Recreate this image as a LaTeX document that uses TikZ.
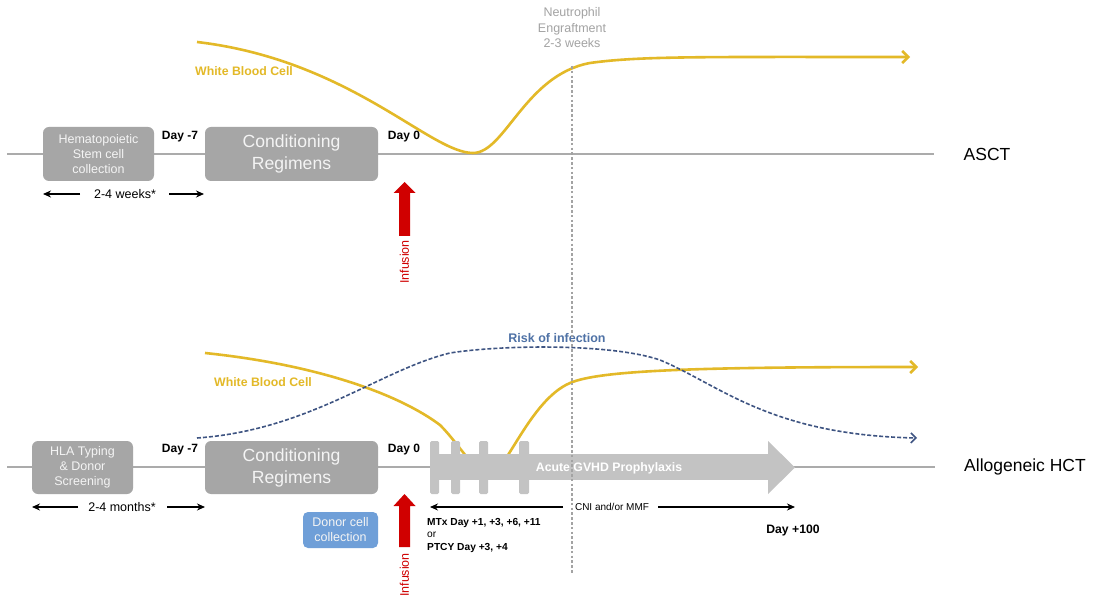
\documentclass[tikz,border=0pt]{standalone}
\usepackage{fontspec}
\setmainfont{Liberation Sans}
\usetikzlibrary{arrows.meta}
\definecolor{boxgray}{HTML}{A6A6A6}
\definecolor{linegray}{HTML}{ABABAB}
\definecolor{wbc}{HTML}{E3B928}
\definecolor{risk}{HTML}{3E5482}
\definecolor{risklbl}{HTML}{4F72A6}
\definecolor{gvhd}{HTML}{C3C3C3}
\definecolor{donor}{HTML}{6F9FD8}
\definecolor{infred}{HTML}{D00000}
\definecolor{neutro}{HTML}{A3A3A3}
\definecolor{boxtext}{HTML}{F4F4F4}
\tikzset{
  graybox/.style={fill=boxgray, rounded corners=6pt, text=boxtext, align=center, inner sep=0pt},
  smallbox/.style={graybox, font=\fontsize{12.5}{15}\selectfont},
  condbox/.style={graybox, font=\fontsize{17.6}{22}\selectfont, minimum width=173pt, minimum height=54pt},
  baseline/.style={draw=linegray, line width=2.5pt},
  daylbl/.style={font=\bfseries\fontsize{12}{14}\selectfont, inner sep=0pt},
  rowlbl/.style={font=\fontsize{17.5}{20}\selectfont, inner sep=0pt},
  spanlbl/.style={font=\fontsize{12.5}{15}\selectfont, inner sep=0pt},
  spanarrow/.style={draw=black, line width=1.4pt, -{Stealth[length=8pt,width=7pt]}},
  wbcline/.style={draw=wbc, line width=2.6pt, -{Straight Barb[length=6pt,width=12pt,line width=2.6pt]}},
  wbclbl/.style={text=wbc, font=\bfseries\fontsize{12.3}{14}\selectfont, inner sep=0pt},
  riskline/.style={draw=risk, line width=1.6pt, dash pattern=on 4pt off 2pt, -{Straight Barb[length=5pt,width=10pt,line width=1.6pt]}},
  infarrow/.style={fill=infred},
  inflbl/.style={text=infred, rotate=90, font=\fontsize{12.5}{15}\selectfont, inner sep=0pt},
  neutroline/.style={draw=neutro, line width=2.6pt, dash pattern=on 2.6pt off 2.2pt},
}
\begin{document}
\begin{tikzpicture}[x=1pt,y=-1pt]
\useasboundingbox (0,0) rectangle (1094,601);
\fill[white] (0,0) rectangle (1094,601);

% ---------------- baselines
\coordinate (topL) at (7,154);
\coordinate (topR) at (934,154);
\coordinate (botL) at (7,467);
\coordinate (botR) at (935,467);
\draw[baseline] (topL) -- (topR);
\draw[baseline] (botL) -- (botR);

% ---------------- WBC curves (behind other items)
\draw[wbcline] (197,42) .. controls (350,60) and (430,153) .. (473,153)
   .. controls (505,153) and (525,75) .. (590,63)
   .. controls (640,56) and (700,57) .. (910,57);
\draw[wbcline] (205,353) .. controls (320,365) and (400,395) .. (440,425)
   .. controls (460,445) and (475,474) .. (490,474)
   .. controls (505,474) and (530,400) .. (570,383)
   .. controls (600,370) and (700,367) .. (918,367);

% ---------------- Acute GVHD prophylaxis arrow
\fill[gvhd] (430,454) rectangle (770,480);
\fill[gvhd, rounded corners=1.5pt] (430,441) rectangle (439,494);
\fill[gvhd, rounded corners=1.5pt] (451,441) rectangle (460,494);
\fill[gvhd, rounded corners=1.5pt] (479,441) rectangle (488,494);
\fill[gvhd, rounded corners=1.5pt] (519,441) rectangle (529,494);
\fill[gvhd] (768,441) -- (795,467.5) -- (768,494) -- cycle;
\node[text=white, font=\bfseries\fontsize{12.3}{14}\selectfont, inner sep=0pt] (gvhd) at (609,468) {Acute GVHD Prophylaxis};

% ---------------- risk of infection
\draw[riskline] (197,438) .. controls (310,430) and (380,370) .. (450,353)
   .. controls (500,345) and (610,343) .. (660,360)
   .. controls (720,385) and (770,435) .. (917,438);
\node[text=risklbl, font=\bfseries\fontsize{12.5}{15}\selectfont, inner sep=0pt] (risk) at (557,338) {Risk of infection};

% ---------------- neutrophil engraftment
\coordinate (neuT) at (572,66);
\coordinate (neuB) at (572,574);
\draw[neutroline] (neuT) -- (neuB);
\node[text=neutro, align=center, font=\fontsize{12.5}{15.5}\selectfont, inner sep=0pt] (neu) at (572,28) {Neutrophil\\Engraftment\\2-3 weeks};

% ---------------- top row (ASCT)
\node[smallbox, minimum width=111pt, minimum height=54pt] (hsc) at (98.5,154) {Hematopoietic\\Stem cell\\collection};
\node[condbox] (cond1) at (291.5,154) {Conditioning\\Regimens};
\node[daylbl] (dm7a) at (180,137) {Day -7};
\node[daylbl] (d0a) at (404,137) {Day 0};
\node[rowlbl] (asct) at (987,154) {ASCT};
\node[wbclbl] (wbc1) at (244,71) {White Blood Cell};

\node[spanlbl] (wk) at (125,194) {2-4 weeks*};
\coordinate (wkA) at (80,194);
\coordinate (wkB) at (43,194);
\coordinate (wkC) at (169,194);
\coordinate (wkD) at (204,194);
\draw[spanarrow] (wkA) -- (wkB);
\draw[spanarrow] (wkC) -- (wkD);

\fill[infarrow] (399,236) -- (399,193) -- (393.5,193) -- (404.5,182) -- (415.5,193) -- (410,193) -- (410,236) -- cycle;
\node[inflbl] (inf1) at (404.5,262) {Infusion};

% ---------------- bottom row (Allogeneic HCT)
\node[smallbox, minimum width=101pt, minimum height=53pt] (hla) at (82.5,467.5) {HLA Typing\\\& Donor\\Screening};
\node[condbox, minimum height=53pt] (cond2) at (291.5,467.5) {Conditioning\\Regimens};
\node[daylbl] (dm7b) at (180,450) {Day -7};
\node[daylbl] (d0b) at (404,450) {Day 0};
\node[rowlbl] (allo) at (1025,467) {Allogeneic HCT};
\node[wbclbl] (wbc2) at (263,382) {White Blood Cell};

\node[spanlbl] (mo) at (122,507) {2-4 months*};
\coordinate (moA) at (78,507);
\coordinate (moB) at (32,507);
\coordinate (moC) at (167,507);
\coordinate (moD) at (205,507);
\draw[spanarrow] (moA) -- (moB);
\draw[spanarrow] (moC) -- (moD);

\node[graybox, fill=donor, font=\fontsize{12.5}{15}\selectfont, minimum width=75pt, minimum height=36pt, rounded corners=5pt] (donor) at (340.5,530) {Donor cell\\collection};

\fill[infarrow] (399,547) -- (399,506) -- (393.5,506) -- (404.5,494) -- (415.5,506) -- (410,506) -- (410,547) -- cycle;
\node[inflbl] (inf2) at (404.5,575) {Infusion};

\node[font=\fontsize{10}{12}\selectfont, inner sep=0pt] (cni) at (612,507) {CNI and/or MMF};
\coordinate (cniA) at (563,507);
\coordinate (cniB) at (430,507);
\coordinate (cniC) at (658,507);
\coordinate (cniD) at (795,507);
\draw[spanarrow] (cniA) -- (cniB);
\draw[spanarrow] (cniC) -- (cniD);

\node[anchor=west, align=left, font=\bfseries\fontsize{10.2}{12.5}\selectfont, inner sep=0pt] (mtx) at (427,535) {MTx Day +1, +3, +6, +11\\{\mdseries or}\\PTCY Day +3, +4};
\node[daylbl, font=\bfseries\fontsize{12.2}{14}\selectfont] (d100) at (793,531) {Day +100};
\end{tikzpicture}
\end{document}
